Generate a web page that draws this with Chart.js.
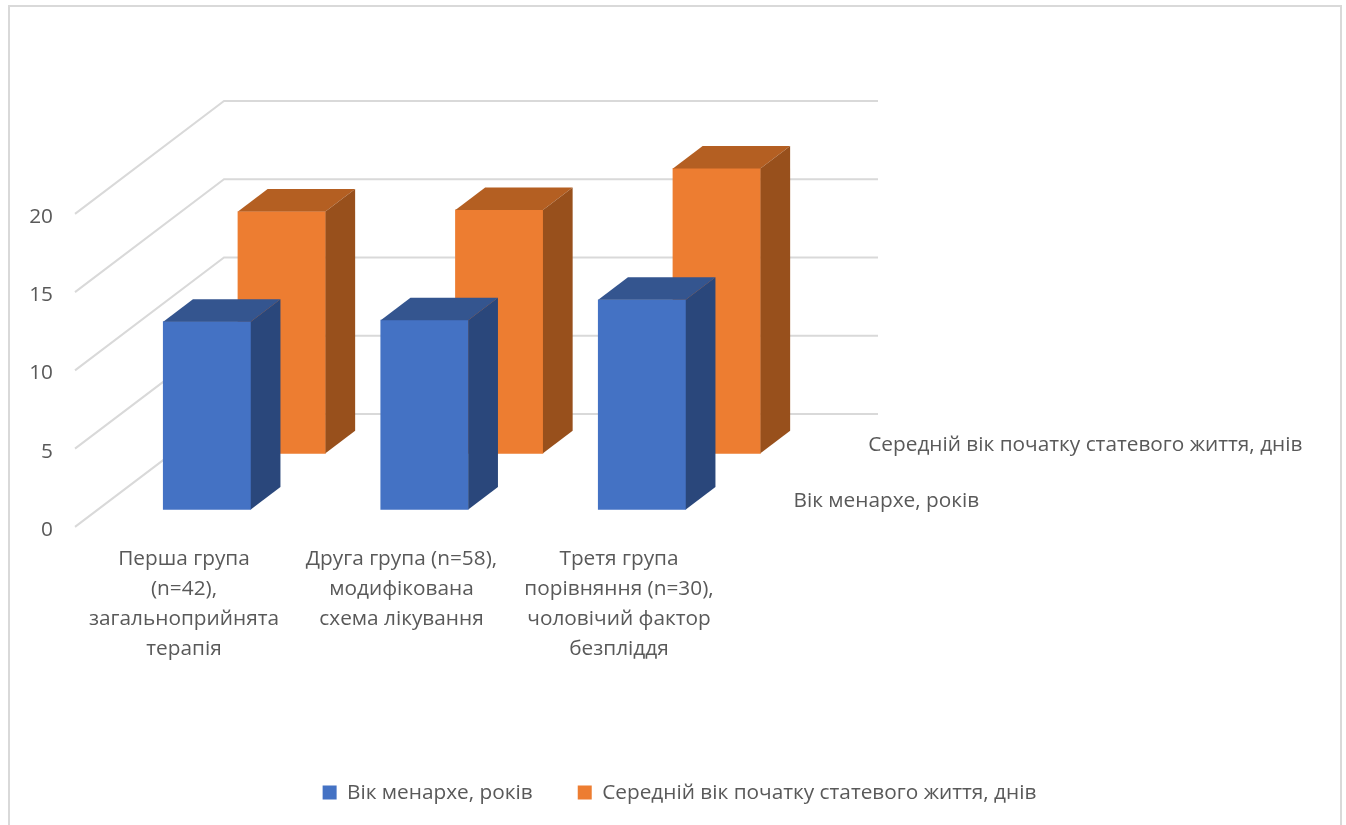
<!DOCTYPE html>
<html lang="uk">
<head>
<meta charset="utf-8">
<title>Вік менархе</title>
<script src="https://cdn.jsdelivr.net/npm/chart.js@4/dist/chart.umd.min.js"></script>
<style>
  body { margin: 0; background: #fff; overflow: hidden; }
  #wrap { position: relative; width: 1346px; height: 825px; }
  #frame {
    position: absolute; left: 8px; top: 5px; width: 1330px; height: 820px;
    border: 2px solid #d9d9d9; border-bottom: 0;
  }
  #chart { position: absolute; left: 0; top: 0; }
</style>
</head>
<body>
<div id="wrap">
  <div id="frame"></div>
  <canvas id="chart" width="1346" height="825"></canvas>
</div>
<script>
'use strict';

// data
let categories = [
  ['Перша група', '(n=42),', 'загальноприйнята', 'терапія'],
  ['Друга група (n=58),', 'модифікована', 'схема лікування'],
  ['Третя група', 'порівняння (n=30),', 'чоловічий фактор', 'безпліддя']
];
let seriesNames = ['Вік менархе, років', 'Середній вік початку статевого життя, днів'];
let menarcheValues = [12, 12.1, 13.4];
let sexLifeValues = [15.45, 15.55, 18.2];
let yTicks = [0, 5, 10, 15, 20];

// layout of the fake 3d box, in pixels
const AREA_LEFT = 75;
const AREA_RIGHT = 878;
const AREA_TOP = 60;
const AREA_BOTTOM = 535;
const PX_PER_UNIT = 15.68;
const PX_PER_CATEGORY = 217.5;
const DEPTH_X = 29.7;
const DEPTH_Y = 22.5;
const WALL_X = 149;
const FONT = { family: '"Open Sans", sans-serif', size: 20.8 };
const TEXT_COLOR = '#595959';
const GRID_COLOR = '#d9d9d9';

// every axis shares the chart area, so each one gets a range that puts its zero where it belongs
function yRange(zeroPx) {
  return {
    bounds: 'data',
    min: (zeroPx - AREA_BOTTOM) / PX_PER_UNIT,
    max: (zeroPx - AREA_TOP) / PX_PER_UNIT
  };
}

function xRange(firstPx) {
  return {
    bounds: 'data',
    offset: false,
    min: (AREA_LEFT - firstPx) / PX_PER_CATEGORY,
    max: (AREA_RIGHT - firstPx) / PX_PER_CATEGORY
  };
}

function toPoints(values) {
  return values.map((v, i) => ({ x: i, y: v }));
}

function polygon(ctx, color, points) {
  ctx.fillStyle = color;
  ctx.beginPath();
  ctx.moveTo(points[0][0], points[0][1]);
  for (let i = 1; i < points.length; i++) {
    ctx.lineTo(points[i][0], points[i][1]);
  }
  ctx.closePath();
  ctx.fill();
}

let shades = [
  { top: '#34558f', side: '#2a477b' },
  { top: '#b45f22', side: '#98501c' }
];

let box3d = {
  id: 'box3d',
  // back wall lines and the diagonals running to the tick labels
  beforeDatasetsDraw(chart) {
    let ctx = chart.ctx;
    let wall = chart.scales.yWall;
    let labels = chart.scales.yLabels;
    ctx.save();
    ctx.strokeStyle = GRID_COLOR;
    ctx.lineWidth = 2;
    for (let i = 0; i < yTicks.length; i++) {
      let wallY = wall.getPixelForValue(yTicks[i]);
      ctx.beginPath();
      ctx.moveTo(chart.chartArea.left, labels.getPixelForValue(yTicks[i]));
      ctx.lineTo(chart.chartArea.left + WALL_X, wallY);
      ctx.lineTo(chart.chartArea.right, wallY);
      ctx.stroke();
    }
    ctx.restore();
  },
  // top and side faces go right after the dataset, so the blue ones cover the orange
  afterDatasetDraw(chart, args) {
    let ctx = chart.ctx;
    let shade = shades[args.index];
    args.meta.data.forEach(function (bar) {
      let left = bar.x - bar.width / 2;
      let right = bar.x + bar.width / 2;
      polygon(ctx, shade.top, [
        [left, bar.y], [right, bar.y],
        [right + DEPTH_X, bar.y - DEPTH_Y], [left + DEPTH_X, bar.y - DEPTH_Y]
      ]);
      polygon(ctx, shade.side, [
        [right, bar.y], [right + DEPTH_X, bar.y - DEPTH_Y],
        [right + DEPTH_X, bar.base - DEPTH_Y], [right, bar.base]
      ]);
    });
  },
  // series names on the depth axis
  afterDatasetsDraw(chart) {
    let ctx = chart.ctx;
    ctx.save();
    ctx.font = FONT.size + 'px ' + FONT.family;
    ctx.fillStyle = TEXT_COLOR;
    ctx.textBaseline = 'middle';
    ctx.textAlign = 'left';
    for (let i = 0; i < seriesNames.length; i++) {
      let lastBar = chart.getDatasetMeta(i).data[categories.length - 1];
      ctx.fillText(seriesNames[i], lastBar.x + 151.5, lastBar.base - 8.5);
    }
    ctx.restore();
  }
};

const ctx = document.getElementById('chart').getContext('2d');

let chartData = {
  type: 'bar',
  data: {
    datasets: [{
      label: seriesNames[0],
      data: toPoints(menarcheValues),
      backgroundColor: '#4472c4',
      xAxisID: 'x',
      yAxisID: 'y',
      barThickness: 87.5,
      grouped: false
    },
    {
      label: seriesNames[1],
      data: toPoints(sexLifeValues),
      backgroundColor: '#ed7d31',
      xAxisID: 'xBack',
      yAxisID: 'yBack',
      barThickness: 87.5,
      grouped: false
    }]
  },
  options: {
    responsive: false,
    animation: false,
    layout: { padding: { left: 13, top: AREA_TOP, bottom: 12 } },
    plugins: {
      tooltip: { enabled: false },
      legend: {
        position: 'bottom',
        labels: {
          boxWidth: 14,
          boxHeight: 14,
          padding: 45,
          color: TEXT_COLOR,
          font: FONT
        }
      }
    },
    scales: {
      x: { type: 'linear', display: false, ...xRange(207) },
      xBack: { type: 'linear', display: false, ...xRange(281.7) },
      xLabels: {
        type: 'linear',
        position: 'bottom',
        ...xRange(184),
        grid: { display: false, drawTicks: false },
        border: { display: false },
        afterFit(scale) { scale.height = 203; },
        afterBuildTicks(scale) { scale.ticks = categories.map((c, i) => ({ value: i })); },
        ticks: {
          autoSkip: false,
          maxRotation: 0,
          padding: 9.5,
          color: TEXT_COLOR,
          font: { ...FONT, lineHeight: '30px' },
          callback: (value) => categories[value]
        }
      },
      y: { type: 'linear', display: false, ...yRange(510.3) },
      yBack: { type: 'linear', display: false, ...yRange(454) },
      yLabels: {
        type: 'linear',
        position: 'left',
        ...yRange(527.7),
        grid: { display: false, drawTicks: false },
        border: { display: false },
        afterFit(scale) { scale.width = AREA_LEFT - 13; },
        afterBuildTicks(scale) { scale.ticks = yTicks.map((v) => ({ value: v })); },
        ticks: {
          padding: 22,
          labelOffset: 3,
          color: TEXT_COLOR,
          font: FONT
        }
      },
      // only reserves the empty space right of the box and carries the wall lines
      yWall: {
        type: 'linear',
        position: 'right',
        ...yRange(414.7),
        grid: { display: false, drawTicks: false },
        border: { display: false },
        ticks: { display: false },
        afterFit(scale) { scale.width = 1346 - AREA_RIGHT; }
      }
    }
  },
  plugins: [box3d]
};

const myChart = new Chart(ctx, chartData); //eslint-disable-line
</script>
</body>
</html>
